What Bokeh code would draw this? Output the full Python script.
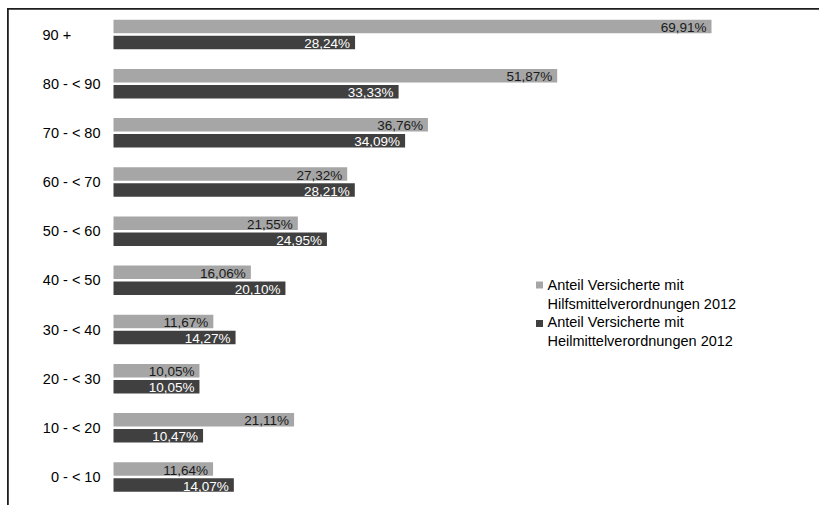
from bokeh.plotting import figure
from bokeh.models import ColumnDataSource, Range1d, BoxAnnotation
from bokeh.core.properties import value
from bokeh.embed import file_html
from bokeh.resources import INLINE

# ---- data ----
age_groups = ["90 +", "80 - < 90", "70 - < 80", "60 - < 70", "50 - < 60",
              "40 - < 50", "30 - < 40", "20 - < 30", "10 - < 20", "0 - < 10"]
hilfsmittel = [69.91, 51.87, 36.76, 27.32, 21.55, 16.06, 11.67, 10.05, 21.11, 11.64]
heilmittel = [28.24, 33.33, 34.09, 28.21, 24.95, 20.10, 14.27, 10.05, 10.47, 14.07]
series_names = ["Anteil Versicherte mit\nHilfsmittelverordnungen 2012",
                "Anteil Versicherte mit\nHeilmittelverordnungen 2012"]

def fmt(v):
    return ("%.2f" % v).replace(".", ",") + "%"

W, H = 819, 505
PX_PER_UNIT_X = 8.554
X0_PX = 113
PITCH = 49.17
FIRST_CENTER = 34

x_start = -X0_PX / PX_PER_UNIT_X
x_end = (W - X0_PX) / PX_PER_UNIT_X
y_top = -FIRST_CENTER / PITCH
y_bottom = y_top + H / PITCH

def px_x(px):
    return (px - X0_PX) / PX_PER_UNIT_X

def px_y(py):
    return y_top + py / PITCH

p = figure(width=W, height=H, output_backend="svg", toolbar_location=None,
           x_range=Range1d(x_start, x_end), y_range=Range1d(y_bottom, y_top),
           x_axis_location=None, y_axis_location=None,
           min_border_left=0, min_border_right=0, min_border_top=0, min_border_bottom=0)
p.grid.visible = False
p.outline_line_color = None
p.background_fill_color = "white"
p.border_fill_color = "white"

idx = list(range(len(age_groups)))
off = 8 / PITCH
bh = 13.5 / PITCH

light = "#A6A6A6"
dark = "#404040"
font = value("Liberation Sans")

src1 = ColumnDataSource(dict(y=[i - off for i in idx], v=hilfsmittel, t=[fmt(v) for v in hilfsmittel]))
src2 = ColumnDataSource(dict(y=[i + off for i in idx], v=heilmittel, t=[fmt(v) for v in heilmittel]))

p.hbar(y="y", right="v", left=0, height=bh, source=src1, fill_color=light, line_color=None)
p.hbar(y="y", right="v", left=0, height=bh, source=src2, fill_color=dark, line_color=None)

p.text(x="v", y="y", text="t", source=src1, text_align="right", text_baseline="middle",
       x_offset=-5, y_offset=1, text_font=font, text_font_size="13.5px", text_color="#1a1a1a")
p.text(x="v", y="y", text="t", source=src2, text_align="right", text_baseline="middle",
       x_offset=-5, y_offset=1, text_font=font, text_font_size="13.5px", text_color="white")

# category labels
cat_src = ColumnDataSource(dict(
    y=idx, label=age_groups,
    x=[px_x(42) if i == 0 else px_x(100) for i in idx],
    align=["left" if i == 0 else "right" for i in idx]))
p.text(x="x", y="y", text="label", source=cat_src, text_align={"field": "align"},
       text_baseline="middle", text_font=font, text_font_size="14.5px", text_color="black")

# chart-area border (top and left edges only)
p.add_layout(BoxAnnotation(left=px_x(7), right=x_end + 50, top=px_y(7.5), bottom=px_y(9.3),
                           fill_color="#1e1e1e", fill_alpha=1, line_color=None))
p.add_layout(BoxAnnotation(left=px_x(6.5), right=px_x(8.3), top=px_y(7.5), bottom=y_bottom + 50,
                           fill_color="#1e1e1e", fill_alpha=1, line_color=None))

# legend
leg_src = ColumnDataSource(dict(
    x=[px_x(539), px_x(539)], y=[px_y(284.5), px_y(323)],
    tx=[px_x(547), px_x(547)], ty=[px_y(276.5), px_y(313.5)],
    label=series_names, color=[light, dark]))
p.scatter(x="x", y="y", source=leg_src, marker="square", size=7, fill_color="color", line_color=None)
p.text(x="tx", y="ty", text="label", source=leg_src, text_align="left", text_baseline="top",
       text_font=font, text_font_size="14.5px", text_color="black", text_line_height=1.2)

open("out.html", "w").write(file_html(p, INLINE))
